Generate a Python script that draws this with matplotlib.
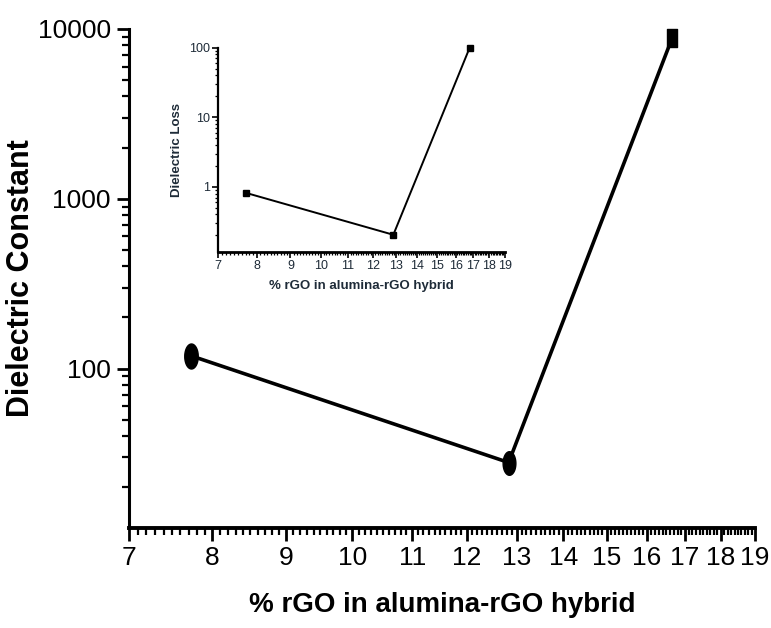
import numpy as np
import matplotlib.pyplot as plt
from matplotlib.path import Path
from matplotlib.ticker import FixedLocator, NullFormatter, LogLocator

plt.rcParams["font.family"] = "Liberation Sans"

# main plot: dielectric constant
rgo = [7.73, 12.83, 16.65]
dielectric_const = [119, 28, 8800]
# inset: dielectric loss
rgo_inset = [7.70, 12.88, 16.8]
dielectric_loss = [0.82, 0.204, 100]

x_ticks = [7, 8, 9, 10, 11, 12, 13, 14, 15, 16, 17, 18, 19]
x_labels = [str(t) for t in x_ticks]
x_minor = np.round(np.arange(7, 19.001, 0.1), 2)

# tall ellipse marker like the prism markers in the original
t = np.linspace(0, 2 * np.pi, 60)
ellipse = Path(np.column_stack([0.27 * np.cos(t), 0.5 * np.sin(t)]), closed=True)
tall_box = Path([(-0.3, -0.5), (0.3, -0.5), (0.3, 0.5), (-0.3, 0.5), (-0.3, -0.5)], closed=True)
markers = [ellipse, ellipse, tall_box]
msizes = [18, 17, 13]

fig = plt.figure(figsize=(7.71, 6.28), dpi=100)
ax = fig.add_axes([0.167, 0.159, 0.812, 0.795])

ax.plot(rgo, dielectric_const, color="black", lw=2.6, zorder=2)
for xi, yi, m, s in zip(rgo, dielectric_const, markers, msizes):
    ax.plot([xi], [yi], marker=m, ms=s, color="black", mec="black", zorder=3, clip_on=False)

ax.set_xscale("log")
ax.set_yscale("log")
ax.set_xlim(7, 19)
ax.set_ylim(11.5, 10000)
ax.xaxis.set_major_locator(FixedLocator(x_ticks))
ax.xaxis.set_minor_locator(FixedLocator(x_minor))
ax.xaxis.set_minor_formatter(NullFormatter())
ax.set_xticklabels(x_labels)
ax.set_yticks([100, 1000, 10000])
ax.set_yticklabels(["100", "1000", "10000"])
ax.yaxis.set_minor_locator(LogLocator(base=10, subs=np.arange(2, 10), numticks=20))
ax.yaxis.set_minor_formatter(NullFormatter())

for s in ["top", "right"]:
    ax.spines[s].set_visible(False)
ax.spines["left"].set_linewidth(2.2)
ax.spines["bottom"].set_linewidth(2.8)
ax.tick_params(which="major", length=9, width=2.0, labelsize=19, pad=4)
ax.tick_params(which="minor", length=5, width=1.6)
ax.set_xlabel("% rGO in alumina-rGO hybrid", fontsize=20, fontweight="bold", labelpad=16)
ax.set_ylabel("Dielectric Constant", fontsize=22, fontweight="bold", labelpad=1)

# inset
txt = "#1e2b38"
ins = fig.add_axes([0.283, 0.599, 0.372, 0.325])
ins.plot(rgo_inset, dielectric_loss, color="black", lw=1.4, marker="s", ms=4, clip_on=False)
ins.set_xscale("log")
ins.set_yscale("log")
ins.set_xlim(7, 19)
ins.set_ylim(0.116, 100)
ins.xaxis.set_major_locator(FixedLocator(x_ticks))
ins.xaxis.set_minor_locator(FixedLocator(x_minor))
ins.xaxis.set_minor_formatter(NullFormatter())
ins.set_xticklabels(x_labels)
ins.set_yticks([1, 10, 100])
ins.set_yticklabels(["1", "10", "100"])
ins.yaxis.set_minor_locator(LogLocator(base=10, subs=np.arange(2, 10), numticks=20))
ins.yaxis.set_minor_formatter(NullFormatter())
for s in ["top", "right"]:
    ins.spines[s].set_visible(False)
ins.spines["left"].set_linewidth(1.6)
ins.spines["bottom"].set_linewidth(2.0)
ins.tick_params(which="major", length=4, width=1.2, labelsize=9, pad=2, labelcolor=txt)
ins.tick_params(which="minor", length=2.5, width=0.9)
ins.set_xlabel("% rGO in alumina-rGO hybrid", fontsize=9.5, fontweight="bold", color=txt, labelpad=6)
ins.set_ylabel("Dielectric Loss", fontsize=9.5, fontweight="bold", color=txt, labelpad=4)

plt.savefig("out.png", dpi=100)
